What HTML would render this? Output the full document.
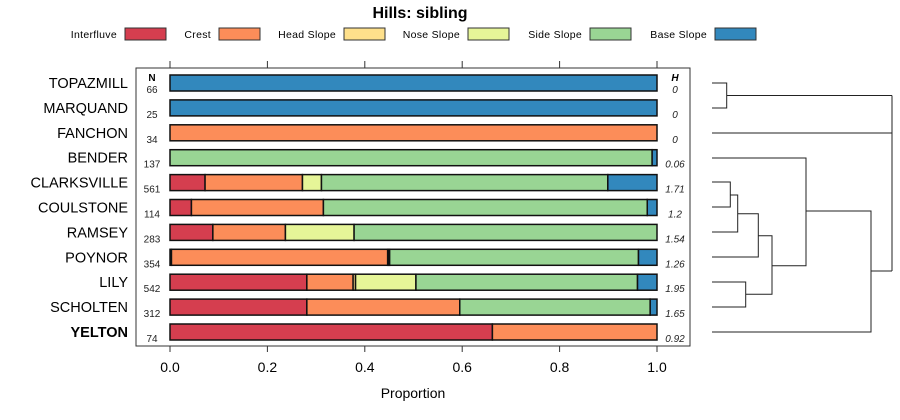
<!DOCTYPE html>
<html><head><meta charset="utf-8"><style>
body{margin:0;background:#fff;font-family:"Liberation Sans",sans-serif}
svg{display:block}
</style></head><body>
<svg id="c" width="900" height="420" xmlns="http://www.w3.org/2000/svg" font-family="Liberation Sans, sans-serif">
<text x="420" y="18" text-anchor="middle" font-weight="bold" font-size="16">Hills: sibling</text>
<g id="legend"></g>
<rect x="136" y="68" width="554" height="278" fill="none" stroke="#333" stroke-width="1"/>
<g id="bars"></g>
<g id="axis"></g>
<text x="413" y="398" text-anchor="middle" font-size="14">Proportion</text>
<text x="152" y="81" text-anchor="middle" font-size="10" font-weight="bold">N</text>
<text x="675" y="81" text-anchor="middle" font-size="10" font-weight="bold" font-style="italic">H</text>
<g id="dendro" stroke="#222" stroke-width="1" fill="none">
<path d="M712 83H726.7V108H712M726.7 95.5H892M712 133H892M892 95.5V271"/>
<path d="M712 158H806V265.7H772M712 182H730.3V207H712M730.3 195H737.7V232H712M737.7 213.7H758.3V257H712M758.3 235.7H772V294.3H745.7M712 282H745.7V307H712M806 211H871V332H712M871 271H892"/>
</g>
</svg>
<script>
const NS="http://www.w3.org/2000/svg";
const classes=["Interfluve","Crest","Head Slope","Nose Slope","Side Slope","Base Slope"];
const colors=["#d53e4f","#fc8d59","#fee08b","#e6f598","#99d594","#3288bd"];
const soils=["TOPAZMILL","MARQUAND","FANCHON","BENDER","CLARKSVILLE","COULSTONE","RAMSEY","POYNOR","LILY","SCHOLTEN","YELTON"];
const counts=[66,25,34,137,561,114,283,354,542,312,74];
const entropy=["0","0","0","0.06","1.71","1.2","1.54","1.26","1.95","1.65","0.92"];
const interfluve=[0,0,0,0,0.072,0.044,0.088,0.003,0.281,0.281,0.662];
const crest=[0,0,1,0,0.200,0.271,0.149,0.444,0.095,0.314,0.338];
const headSlope=[0,0,0,0,0,0,0,0.002,0.005,0,0];
const noseSlope=[0,0,0,0,0.039,0,0.141,0.002,0.124,0,0];
const sideSlope=[0,0,0,0.99,0.588,0.665,0.622,0.511,0.455,0.391,0];
const baseSlope=[1,1,0,0.01,0.101,0.020,0,0.038,0.040,0.014,0];
const ticks=[0,0.2,0.4,0.6,0.8,1.0];
const tickLabels=["0.0","0.2","0.4","0.6","0.8","1.0"];
const series=[interfluve,crest,headSlope,noseSlope,sideSlope,baseSlope];
const xs=v=>170+v*487;
const ys=i=>83+i*24.9;
function mk(t,a,p){const e=document.createElementNS(NS,t);for(const k in a)e.setAttribute(k,a[k]);p.appendChild(e);return e;}
const lg=document.getElementById('legend');
const legX=[125,219,344,468,590,715];
classes.forEach((c,i)=>{
  const g=mk('g',{},lg);
  
  
  const t=mk('text',{x:legX[i]-8,y:38,'text-anchor':'end','font-size':'10.5','letter-spacing':'0.3'},g);t.textContent=c;
  mk('rect',{x:legX[i],y:28,width:41,height:12,fill:colors[i],stroke:'#333'},g);
});
const bg=document.getElementById('bars');
soils.forEach((s,i)=>{
  const y=ys(i);
  const lab=mk('text',{x:128,y:y+5,'text-anchor':'end','font-size':'14.5','font-weight':s==='YELTON'?'bold':'normal'},bg);
  lab.textContent=s;
  
  
  const n=mk('text',{x:152,y:y+10,'text-anchor':'middle','font-size':'10',fill:'#222'},bg);n.textContent=counts[i];
  
  
  const h=mk('text',{x:675,y:y+10,'text-anchor':'middle','font-size':'10','font-style':'italic',fill:'#222'},bg);h.textContent=entropy[i];
  
  
  let cum=0;
  series.forEach((ser,k)=>{
    const v=ser[i];if(v<=0)return;
    const r=mk('rect',{x:xs(cum),y:y-8,width:xs(cum+v)-xs(cum),height:16,fill:colors[k],stroke:'#111','stroke-width':1.5},bg);
    
    
    cum+=v;
  });
});
const ax=document.getElementById('axis');
ticks.forEach((t,i)=>{
  mk('line',{x1:xs(t),x2:xs(t),y1:346,y2:352,stroke:'#333'},ax);
  mk('line',{x1:xs(t),x2:xs(t),y1:61,y2:68,stroke:'#333'},ax);
  const l=mk('text',{x:xs(t),y:372,'text-anchor':'middle','font-size':'14'},ax);l.textContent=tickLabels[i];
  
  
});
</script>
</body></html>
